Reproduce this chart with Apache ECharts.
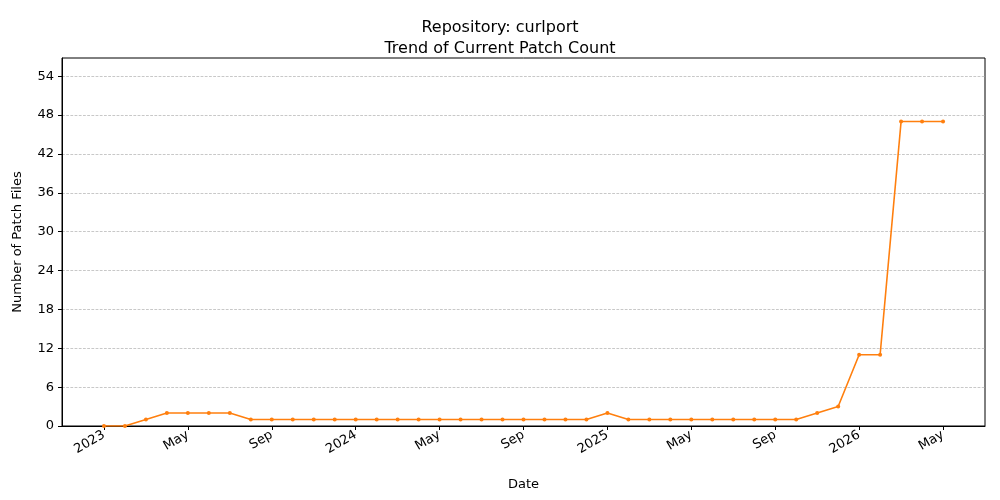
<!DOCTYPE html>
<html><head><meta charset="utf-8">
<script src="https://cdn.jsdelivr.net/npm/echarts@6/dist/echarts.min.js"></script>
<style>html,body{margin:0;padding:0;background:#fff}#c{width:1000px;height:500px}</style>
</head><body><div id="c"></div>
<script>
// month index 0 = Jan 2023
const patchCounts = [0,0,1,2,2,2,2,1,1,1,1,1,
  1,1,1,1,1,1,1,1,1,1,1,1,
  2,1,1,1,1,1,1,1,1,1,2,3,
  11,11,47,47,47];
const tickIdx = [0,4,8,12,16,20,24,28,32,36,40];
const tickLabels = ['2023','May','Sep','2024','May','Sep','2025','May','Sep','2026','May'];
const yTicks = [0,6,12,18,24,30,36,42,48,54];
const font = 'DejaVu Sans';
const chart = echarts.init(document.getElementById('c'));
chart.setOption({
  animation:false,
  title:{text:'Repository: curlport\nTrend of Current Patch Count',left:'center',top:12,
    textStyle:{fontFamily:font,fontSize:16,fontWeight:'normal',color:'#000',lineHeight:21}},
  grid:{left:62,right:15,top:58,bottom:74},
  xAxis:{type:'value',min:-2,max:42,name:'Date',nameLocation:'middle',nameGap:52,
    nameTextStyle:{fontFamily:font,fontSize:13,color:'#000'},
    axisLine:{onZero:false,lineStyle:{color:'#000'}},
    splitLine:{show:false},
    axisTick:{customValues:tickIdx,length:4,lineStyle:{color:'#000'}},
    axisLabel:{customValues:tickIdx,rotate:30,fontFamily:font,fontSize:13,color:'#000',
      formatter:v=>tickLabels[tickIdx.indexOf(v)]}},
  yAxis:{type:'value',min:0,max:56.8,name:'Number of Patch Files',nameLocation:'middle',nameGap:38,
    nameTextStyle:{fontFamily:font,fontSize:13,color:'#000'},
    axisLine:{show:true,onZero:false,lineStyle:{color:'#000'}},
    axisTick:{show:true,customValues:yTicks,length:4,lineStyle:{color:'#000'}},
    axisLabel:{customValues:yTicks,fontFamily:font,fontSize:13,color:'#000'},
    splitLine:{show:true,customValues:yTicks,lineStyle:{color:'#b0b0b0',type:'dashed',width:0.7}}},
  series:[{type:'line',data:patchCounts.map((v,i)=>[i,v]),symbol:'circle',symbolSize:4,
    itemStyle:{color:'#ff7f0e'},lineStyle:{color:'#ff7f0e',width:1.6}}],
  graphic:[{type:'rect',shape:{x:62,y:58,width:923,height:368},style:{fill:null,stroke:'#000',lineWidth:1},silent:true}]
});
</script></body></html>
